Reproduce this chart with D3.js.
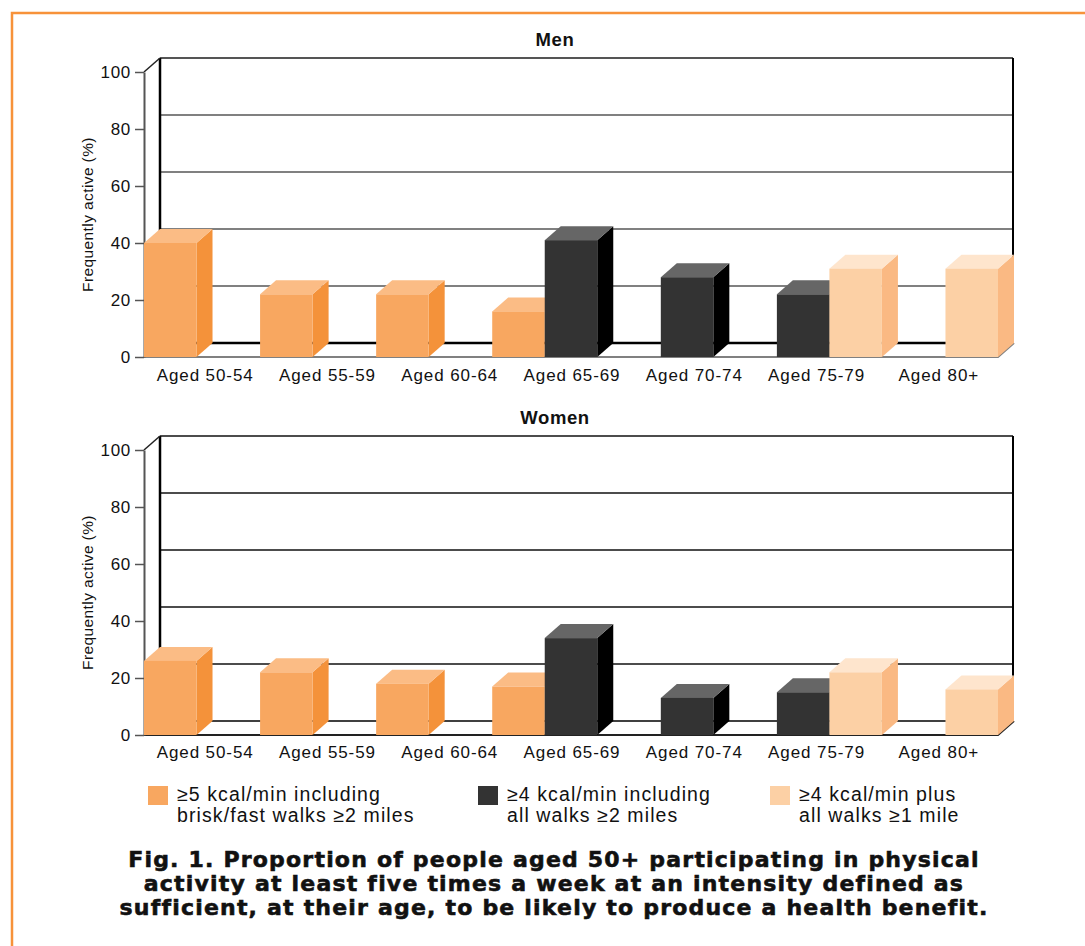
<!DOCTYPE html>
<html>
<head>
<meta charset="utf-8">
<script src="https://cdn.jsdelivr.net/npm/d3@7"></script>
<style>
body { margin: 0; background: #fff; }
svg text { font-family: "Liberation Sans", Arial, sans-serif; fill: #111; }
</style>
</head>
<body>
<div id="chart"></div>
<script>
// Age groups (categories)
const ageGroups = ["Aged 50-54", "Aged 55-59", "Aged 60-64", "Aged 65-69", "Aged 70-74", "Aged 75-79", "Aged 80+"];

// Men, % frequently active (null = not applicable for that age)
const menBrisk = [40, 22, 22, 16, null, null, null];
const menWalk2 = [null, null, null, 41, 28, 22, null];
const menWalk1 = [null, null, null, null, null, 31, 31];

// Women
const womenBrisk = [26, 22, 18, 17, null, null, null];
const womenWalk2 = [null, null, null, 34, 13, 15, null];
const womenWalk1 = [null, null, null, null, null, 22, 16];

const yTicks = [0, 20, 40, 60, 80, 100];

const legendLabels = [
    ["≥5 kcal/min including", "brisk/fast walks ≥2 miles"],
    ["≥4 kcal/min including", "all walks ≥2 miles"],
    ["≥4 kcal/min plus", "all walks ≥1 mile"]
];

const captionLines = [
    "Fig. 1. Proportion of people aged 50+ participating in physical",
    "activity at least five times a week at an intensity defined as",
    "sufficient, at their age, to be likely to produce a health benefit."
];

// face colours for each series: front, side, top
const palette = [
    { front: "#f8a760", side: "#f4923a", top: "#fbbc85" },
    { front: "#333333", side: "#000000", top: "#666666" },
    { front: "#fcd0a5", side: "#fab983", top: "#fee5cd" }
];

const W = 1085, H = 946;
const dx = 16, dy = 14;            // 3d depth offset
const left = 144, right = 998;     // front floor extent
const groupStep = 2.21;            // group spacing in bar widths

const svg = d3.select("#chart").append("svg")
    .attr("width", W)
    .attr("height", H);

// orange frame
svg.append("path")
    .attr("d", `M12,${H} V13 H${W}`)
    .attr("fill", "none")
    .attr("stroke", "#f7923a")
    .attr("stroke-width", 2.5);

const xSlot = d3.scaleLinear()
    .domain([0, (ageGroups.length - 1) * groupStep + 3])
    .range([left, right]);

const xBand = d3.scaleBand().domain(ageGroups).range([left, 1000]);

function styleText(sel, size, spacing) {
    sel.attr("font-size", size)
        .attr("letter-spacing", spacing)
        .attr("fill", "#111")
        .style("font-family", '"Liberation Sans", Arial, sans-serif');
}

function drawPanel(top, title, series, opts) {
    const y = d3.scaleLinear().domain([0, 100]).range([top + 285, top]);
    const g = svg.append("g");
    const y0 = y(0);

    // back wall gridlines
    g.selectAll(".grid")
        .data(yTicks.filter(d => d > 0))
        .enter().append("line")
        .attr("x1", left + dx).attr("x2", 1013)
        .attr("y1", d => y(d) - dy).attr("y2", d => y(d) - dy)
        .attr("stroke", d => d === 100 ? opts.topColor : opts.gridColor)
        .attr("stroke-width", opts.gridWidth);

    // back floor edge and wall edges
    g.append("line")
        .attr("x1", left + dx).attr("x2", 1013)
        .attr("y1", y0 - dy).attr("y2", y0 - dy)
        .attr("stroke", "#000").attr("stroke-width", opts.floorWidth);
    g.append("line")
        .attr("x1", left + dx).attr("x2", left + dx)
        .attr("y1", y(100) - dy).attr("y2", y0 - dy)
        .attr("stroke", "#000").attr("stroke-width", 2.5);
    g.append("line")
        .attr("x1", 1013).attr("x2", 1013)
        .attr("y1", y(100) - dy).attr("y2", y0 - dy)
        .attr("stroke", "#000").attr("stroke-width", 2);

    // front floor edge + right diagonal
    g.append("path")
        .attr("d", `M${left},${y0} H${right} L${right + dx},${y0 - dy}`)
        .attr("fill", "none")
        .attr("stroke", opts.frontColor).attr("stroke-width", 2);

    // top-left diagonal of axis
    g.append("line")
        .attr("x1", left).attr("y1", y(100))
        .attr("x2", left + dx).attr("y2", y(100) - dy)
        .attr("stroke", "#222").attr("stroke-width", 1.5);

    // y axis
    const ax = g.append("g")
        .attr("transform", `translate(${left},0)`)
        .call(d3.axisLeft(y).tickValues(yTicks).tickSize(9).tickPadding(4).tickSizeOuter(0));
    ax.select(".domain").attr("stroke", "#555").attr("stroke-width", 2);
    ax.selectAll(".tick line").attr("stroke", "#555").attr("stroke-width", 1.5);
    styleText(ax.selectAll(".tick text"), 17, 0.7);

    // bars
    const bars = [];
    series.forEach((vals, s) => {
        vals.forEach((v, i) => {
            if (v !== null) bars.push({ i: i, s: s, v: v });
        });
    });
    bars.sort((a, b) => (a.i * groupStep + a.s) - (b.i * groupStep + b.s));

    const bar = g.selectAll(".bar")
        .data(bars)
        .enter().append("g")
        .attr("class", "bar");

    bar.append("path")
        .attr("fill", d => palette[d.s].side)
        .attr("d", d => {
            const x1 = xSlot(d.i * groupStep + d.s + 1), yt = y(d.v);
            return `M${x1},${yt} L${x1 + dx},${yt - dy} L${x1 + dx},${y0 - dy} L${x1},${y0} Z`;
        });
    bar.append("path")
        .attr("fill", d => palette[d.s].top)
        .attr("d", d => {
            const x0 = xSlot(d.i * groupStep + d.s), x1 = xSlot(d.i * groupStep + d.s + 1), yt = y(d.v);
            return `M${x0},${yt} L${x0 + dx},${yt - dy} L${x1 + dx},${yt - dy} L${x1},${yt} Z`;
        });
    bar.append("rect")
        .attr("fill", d => palette[d.s].front)
        .attr("x", d => xSlot(d.i * groupStep + d.s))
        .attr("width", d => xSlot(d.i * groupStep + d.s + 1) - xSlot(d.i * groupStep + d.s))
        .attr("y", d => y(d.v))
        .attr("height", d => y0 - y(d.v));

    // category labels
    const cx = g.append("g")
        .attr("transform", `translate(0,${y0})`)
        .call(d3.axisBottom(xBand).tickSize(0).tickPadding(opts.labelPad));
    cx.select(".domain").remove();
    styleText(cx.selectAll(".tick text"), 17, 0.9);

    // y title
    g.append("text")
        .attr("transform", `translate(88,${top + 142.5}) rotate(-90)`)
        .attr("text-anchor", "middle")
        .attr("dy", "0.35em")
        .attr("font-size", 15.5)
        .attr("letter-spacing", 0.4)
        .text("Frequently active (%)");

    // panel title
    g.append("text")
        .attr("x", 555).attr("y", top - 26)
        .attr("text-anchor", "middle")
        .attr("font-size", 18.5)
        .attr("letter-spacing", 0.6)
        .attr("font-weight", "bold")
        .text(title);
}

drawPanel(72, "Men", [menBrisk, menWalk2, menWalk1],
    { gridColor: "#808080", topColor: "#555", gridWidth: 2, floorWidth: 2.5, frontColor: "#808080", labelPad: 12 });
drawPanel(450, "Women", [womenBrisk, womenWalk2, womenWalk1],
    { gridColor: "#111", topColor: "#111", gridWidth: 1.3, floorWidth: 1.5, frontColor: "#222", labelPad: 11 });

// legend
const legendX = [148, 478, 770];
const legend = svg.selectAll(".legend")
    .data(legendLabels)
    .enter().append("g")
    .attr("class", "legend")
    .attr("transform", (d, i) => `translate(${legendX[i]},786)`);

legend.append("rect")
    .attr("width", 20).attr("height", 19)
    .attr("fill", (d, i) => palette[i].front);

legend.each(function (d) {
    const t = d3.select(this).append("text")
        .attr("font-size", 19.5)
        .attr("letter-spacing", 1.1);
    d.forEach((line, k) => {
        t.append("tspan").attr("x", 29).attr("y", 15 + k * 20.5).text(line);
    });
});

// caption
svg.selectAll(".caption")
    .data(captionLines)
    .enter().append("text")
    .attr("class", "caption")
    .attr("x", 554)
    .attr("y", (d, i) => 867 + i * 24)
    .attr("text-anchor", "middle")
    .attr("font-size", 22)
    .attr("font-weight", "bold")
    .attr("letter-spacing", 1.2)
    .attr("stroke", "#111")
    .attr("stroke-width", 0.6)
    .style("font-family", '"DejaVu Sans", sans-serif')
    .text(d => d);
</script>
</body>
</html>
